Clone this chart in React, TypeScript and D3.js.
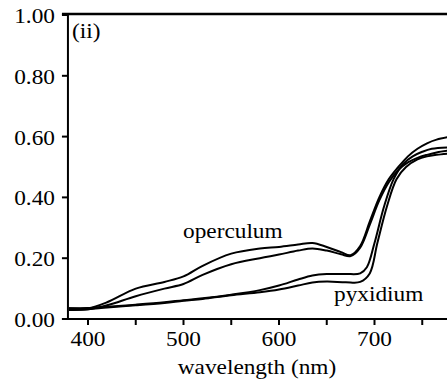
import React from "react";
import * as d3 from "d3";

// Reflectance spectra: two operculum and two pyxidium samples
const operculumA_nm = [380, 400, 420, 450, 480, 500, 520, 550, 580, 600, 620, 635, 650, 665, 675, 685, 695, 705, 715, 725, 735, 745, 755, 765, 780];
const operculumA = [0.035, 0.035, 0.055, 0.1, 0.122, 0.14, 0.175, 0.215, 0.232, 0.237, 0.245, 0.25, 0.237, 0.22, 0.21, 0.24, 0.32, 0.4, 0.46, 0.5, 0.535, 0.56, 0.578, 0.59, 0.6];

const operculumB_nm = [380, 400, 420, 450, 480, 500, 520, 550, 580, 600, 620, 635, 650, 665, 675, 685, 695, 705, 715, 725, 735, 745, 755, 765, 780];
const operculumB = [0.03, 0.032, 0.045, 0.075, 0.1, 0.115, 0.145, 0.18, 0.2, 0.212, 0.225, 0.232, 0.225, 0.213, 0.207, 0.235, 0.31, 0.39, 0.45, 0.49, 0.515, 0.53, 0.54, 0.548, 0.555];

const pyxidiumA_nm = [380, 400, 420, 450, 480, 500, 520, 550, 580, 600, 620, 635, 650, 670, 685, 692, 700, 710, 720, 730, 740, 750, 760, 780];
const pyxidiumA = [0.035, 0.036, 0.04, 0.047, 0.055, 0.062, 0.068, 0.08, 0.095, 0.11, 0.13, 0.143, 0.148, 0.148, 0.15, 0.17, 0.25, 0.37, 0.46, 0.51, 0.535, 0.55, 0.56, 0.565];

const pyxidiumB_nm = [380, 400, 420, 450, 480, 500, 520, 550, 580, 600, 620, 635, 650, 670, 685, 695, 703, 713, 723, 733, 745, 755, 765, 780];
const pyxidiumB = [0.03, 0.032, 0.038, 0.045, 0.053, 0.06, 0.066, 0.078, 0.088, 0.097, 0.11, 0.12, 0.123, 0.121, 0.122, 0.15, 0.25, 0.37, 0.46, 0.5, 0.525, 0.535, 0.54, 0.545];

const yTicks = [0, 0.2, 0.4, 0.6, 0.8, 1.0];
const xMajorTicks = [400, 500, 600, 700];
const xMinorTicks = [450, 550, 650, 750];

const W = 447;
const H = 384;
const textStyle: React.CSSProperties = { fontFamily: "Liberation Serif", fontSize: "21px" };

export default function App() {
  const x = d3.scaleLinear().domain([400, 700]).range([88, 374.5]);
  const y = d3.scaleLinear().domain([0, 1]).range([319, 15]);
  const left = x(379);
  const bottom = y(0);
  const top = y(1) - 1;

  const line = d3
    .line<[number, number]>()
    .x((d) => x(d[0]))
    .y((d) => y(d[1]))
    .curve(d3.curveCatmullRom.alpha(0.5));

  const series: [number[], number[]][] = [
    [operculumA_nm, operculumA],
    [operculumB_nm, operculumB],
    [pyxidiumA_nm, pyxidiumA],
    [pyxidiumB_nm, pyxidiumB],
  ];

  // the typeface is set slightly wide
  const sx = 1.11;
  const txt = (tx: number, ty: number) => `translate(${tx},${ty}) scale(${sx},1)`;

  return (
    <svg
      width={W}
      height={H}
      style={{ position: "absolute", left: 0, top: 0, background: "#fff" }}
    >
      <defs>
        <clipPath id="plot">
          <rect x={left} y={top} width={W - left} height={bottom - top} />
        </clipPath>
      </defs>

      <g clipPath="url(#plot)">
        {series.map(([nm, v], i) => (
          <path
            key={i}
            d={line(nm.map((w, k) => [w, v[k]] as [number, number])) || ""}
            fill="none"
            stroke="#000"
            strokeWidth={2}
            strokeLinejoin="round"
          />
        ))}
      </g>

      {/* frame: left and top edges, bottom axis */}
      <line x1={left} x2={left} y1={top} y2={bottom + 1} stroke="#000" strokeWidth={2} />
      <line x1={left - 6} x2={W} y1={top} y2={top} stroke="#000" strokeWidth={2.5} />
      <line x1={left - 6} x2={W} y1={bottom} y2={bottom} stroke="#000" strokeWidth={2} />

      {yTicks.map((t) => (
        <g key={t}>
          <line x1={left - 6} x2={left} y1={y(t)} y2={y(t)} stroke="#000" strokeWidth={2} />
          <text transform={txt(55, y(t) + 8)} style={textStyle} textAnchor="end" fill="#000">
            {t.toFixed(2)}
          </text>
        </g>
      ))}

      {[...xMajorTicks, ...xMinorTicks].map((t) => (
        <line key={t} x1={x(t)} x2={x(t)} y1={bottom} y2={bottom + 6} stroke="#000" strokeWidth={2} />
      ))}
      {xMajorTicks.map((t) => (
        <text key={t} transform={txt(x(t), 346)} style={textStyle} textAnchor="middle" fill="#000">
          {t}
        </text>
      ))}

      <text transform={txt(257, 374)} style={textStyle} textAnchor="middle" fill="#000">
        wavelength (nm)
      </text>
      <text transform={txt(72, 38)} style={textStyle} fill="#000">
        (ii)
      </text>
      <text transform={txt(183, 238)} style={textStyle} fill="#000">
        operculum
      </text>
      <text transform={txt(334, 301)} style={textStyle} fill="#000">
        pyxidium
      </text>
    </svg>
  );
}
